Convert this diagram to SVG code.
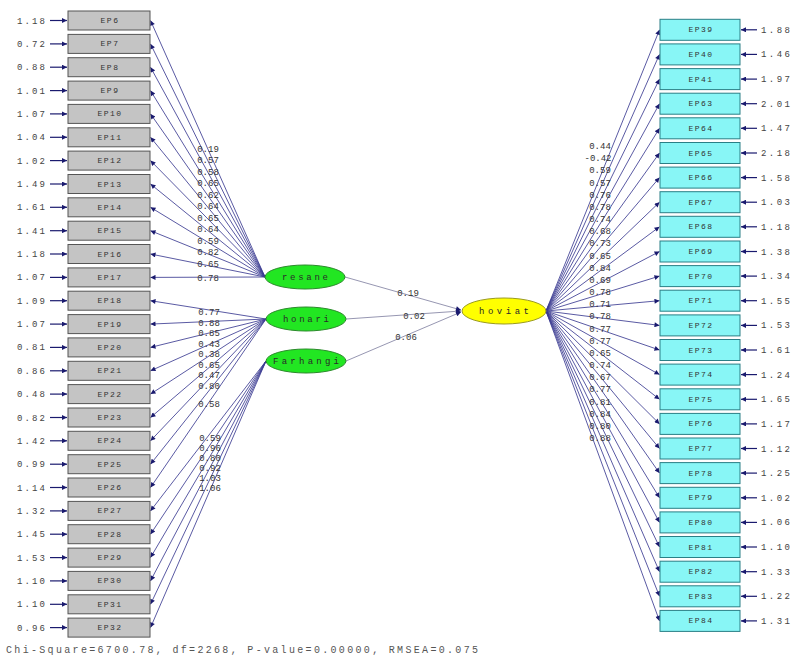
<svg xmlns="http://www.w3.org/2000/svg" width="797" height="657" viewBox="0 0 797 657">
<style>
.bg{fill:#ffffff}
.lb{fill:#c4c4c4;stroke:#555555;stroke-width:1}
.rb{fill:#88f6f6;stroke:#2a7f86;stroke-width:1}
.bt{font-family:"Liberation Mono",monospace;font-size:8px;letter-spacing:1.5px;fill:#333333;text-anchor:middle}
.ev{font-family:"Liberation Mono",monospace;font-size:9px;fill:#444444}
.ld{font-family:"Liberation Mono",monospace;font-size:9px;fill:#333333;text-anchor:middle}
.ln{stroke:#3c3c92;stroke-width:0.85;fill:none}
.st{stroke:#8a8aa8;stroke-width:0.9;fill:none}
.er{stroke:#1a1a6e;stroke-width:1.2;fill:none}
.lat{fill:#22e622;stroke:#2a8a2a;stroke-width:1}
.yel{fill:#ffff00;stroke:#9a9a20;stroke-width:1}
.lt{font-family:"Liberation Mono",monospace;font-size:9px;fill:#2a2a2a;text-anchor:middle}
.ft{font-family:"Liberation Mono",monospace;font-size:10px;fill:#555555}
</style>
<defs>
<marker id="ah" viewBox="0 0 10 10" refX="10" refY="5" markerWidth="7" markerHeight="5" markerUnits="userSpaceOnUse" orient="auto">
<path d="M0,0 L10,5 L0,10 z" fill="#1a1a6e"/>
</marker>
</defs>
<rect class="bg" x="0" y="0" width="797" height="657"/>

<g id="connectors">
<g id="left-errors">
<line class="er" x1="50" y1="20.5" x2="67" y2="20.5" marker-end="url(#ah)"/>
<line class="er" x1="50" y1="43.9" x2="67" y2="43.9" marker-end="url(#ah)"/>
<line class="er" x1="50" y1="67.2" x2="67" y2="67.2" marker-end="url(#ah)"/>
<line class="er" x1="50" y1="90.6" x2="67" y2="90.6" marker-end="url(#ah)"/>
<line class="er" x1="50" y1="113.9" x2="67" y2="113.9" marker-end="url(#ah)"/>
<line class="er" x1="50" y1="137.3" x2="67" y2="137.3" marker-end="url(#ah)"/>
<line class="er" x1="50" y1="160.6" x2="67" y2="160.6" marker-end="url(#ah)"/>
<line class="er" x1="50" y1="184" x2="67" y2="184" marker-end="url(#ah)"/>
<line class="er" x1="50" y1="207.3" x2="67" y2="207.3" marker-end="url(#ah)"/>
<line class="er" x1="50" y1="230.7" x2="67" y2="230.7" marker-end="url(#ah)"/>
<line class="er" x1="50" y1="254" x2="67" y2="254" marker-end="url(#ah)"/>
<line class="er" x1="50" y1="277.4" x2="67" y2="277.4" marker-end="url(#ah)"/>
<line class="er" x1="50" y1="300.7" x2="67" y2="300.7" marker-end="url(#ah)"/>
<line class="er" x1="50" y1="324.1" x2="67" y2="324.1" marker-end="url(#ah)"/>
<line class="er" x1="50" y1="347.4" x2="67" y2="347.4" marker-end="url(#ah)"/>
<line class="er" x1="50" y1="370.8" x2="67" y2="370.8" marker-end="url(#ah)"/>
<line class="er" x1="50" y1="394.1" x2="67" y2="394.1" marker-end="url(#ah)"/>
<line class="er" x1="50" y1="417.5" x2="67" y2="417.5" marker-end="url(#ah)"/>
<line class="er" x1="50" y1="440.8" x2="67" y2="440.8" marker-end="url(#ah)"/>
<line class="er" x1="50" y1="464.2" x2="67" y2="464.2" marker-end="url(#ah)"/>
<line class="er" x1="50" y1="487.5" x2="67" y2="487.5" marker-end="url(#ah)"/>
<line class="er" x1="50" y1="510.9" x2="67" y2="510.9" marker-end="url(#ah)"/>
<line class="er" x1="50" y1="534.2" x2="67" y2="534.2" marker-end="url(#ah)"/>
<line class="er" x1="50" y1="557.6" x2="67" y2="557.6" marker-end="url(#ah)"/>
<line class="er" x1="50" y1="580.9" x2="67" y2="580.9" marker-end="url(#ah)"/>
<line class="er" x1="50" y1="604.3" x2="67" y2="604.3" marker-end="url(#ah)"/>
<line class="er" x1="50" y1="627.6" x2="67" y2="627.6" marker-end="url(#ah)"/>
</g>
<g id="right-errors">
<line class="er" x1="757" y1="29.8" x2="741" y2="29.8" marker-end="url(#ah)"/>
<line class="er" x1="757" y1="54.4" x2="741" y2="54.4" marker-end="url(#ah)"/>
<line class="er" x1="757" y1="79.1" x2="741" y2="79.1" marker-end="url(#ah)"/>
<line class="er" x1="757" y1="103.7" x2="741" y2="103.7" marker-end="url(#ah)"/>
<line class="er" x1="757" y1="128.3" x2="741" y2="128.3" marker-end="url(#ah)"/>
<line class="er" x1="757" y1="153" x2="741" y2="153" marker-end="url(#ah)"/>
<line class="er" x1="757" y1="177.6" x2="741" y2="177.6" marker-end="url(#ah)"/>
<line class="er" x1="757" y1="202.2" x2="741" y2="202.2" marker-end="url(#ah)"/>
<line class="er" x1="757" y1="226.8" x2="741" y2="226.8" marker-end="url(#ah)"/>
<line class="er" x1="757" y1="251.5" x2="741" y2="251.5" marker-end="url(#ah)"/>
<line class="er" x1="757" y1="276.1" x2="741" y2="276.1" marker-end="url(#ah)"/>
<line class="er" x1="757" y1="300.7" x2="741" y2="300.7" marker-end="url(#ah)"/>
<line class="er" x1="757" y1="325.4" x2="741" y2="325.4" marker-end="url(#ah)"/>
<line class="er" x1="757" y1="350" x2="741" y2="350" marker-end="url(#ah)"/>
<line class="er" x1="757" y1="374.6" x2="741" y2="374.6" marker-end="url(#ah)"/>
<line class="er" x1="757" y1="399.3" x2="741" y2="399.3" marker-end="url(#ah)"/>
<line class="er" x1="757" y1="423.9" x2="741" y2="423.9" marker-end="url(#ah)"/>
<line class="er" x1="757" y1="448.5" x2="741" y2="448.5" marker-end="url(#ah)"/>
<line class="er" x1="757" y1="473.1" x2="741" y2="473.1" marker-end="url(#ah)"/>
<line class="er" x1="757" y1="497.8" x2="741" y2="497.8" marker-end="url(#ah)"/>
<line class="er" x1="757" y1="522.4" x2="741" y2="522.4" marker-end="url(#ah)"/>
<line class="er" x1="757" y1="547" x2="741" y2="547" marker-end="url(#ah)"/>
<line class="er" x1="757" y1="571.7" x2="741" y2="571.7" marker-end="url(#ah)"/>
<line class="er" x1="757" y1="596.3" x2="741" y2="596.3" marker-end="url(#ah)"/>
<line class="er" x1="757" y1="620.9" x2="741" y2="620.9" marker-end="url(#ah)"/>
</g>
<g id="load-resane">
<line class="ln" x1="265" y1="277" x2="150.5" y2="20.5" marker-end="url(#ah)"/>
<line class="ln" x1="265" y1="277" x2="150.5" y2="43.9" marker-end="url(#ah)"/>
<line class="ln" x1="265" y1="277" x2="150.5" y2="67.2" marker-end="url(#ah)"/>
<line class="ln" x1="265" y1="277" x2="150.5" y2="90.6" marker-end="url(#ah)"/>
<line class="ln" x1="265" y1="277" x2="150.5" y2="113.9" marker-end="url(#ah)"/>
<line class="ln" x1="265" y1="277" x2="150.5" y2="137.3" marker-end="url(#ah)"/>
<line class="ln" x1="265" y1="277" x2="150.5" y2="160.6" marker-end="url(#ah)"/>
<line class="ln" x1="265" y1="277" x2="150.5" y2="184" marker-end="url(#ah)"/>
<line class="ln" x1="265" y1="277" x2="150.5" y2="207.3" marker-end="url(#ah)"/>
<line class="ln" x1="265" y1="277" x2="150.5" y2="230.7" marker-end="url(#ah)"/>
<line class="ln" x1="265" y1="277" x2="150.5" y2="254" marker-end="url(#ah)"/>
<line class="ln" x1="265" y1="277" x2="150.5" y2="277.4" marker-end="url(#ah)"/>
</g>
<g id="load-honari">
<line class="ln" x1="266" y1="319" x2="150.5" y2="300.7" marker-end="url(#ah)"/>
<line class="ln" x1="266" y1="319" x2="150.5" y2="324.1" marker-end="url(#ah)"/>
<line class="ln" x1="266" y1="319" x2="150.5" y2="347.4" marker-end="url(#ah)"/>
<line class="ln" x1="266" y1="319" x2="150.5" y2="370.8" marker-end="url(#ah)"/>
<line class="ln" x1="266" y1="319" x2="150.5" y2="394.1" marker-end="url(#ah)"/>
<line class="ln" x1="266" y1="319" x2="150.5" y2="417.5" marker-end="url(#ah)"/>
<line class="ln" x1="266" y1="319" x2="150.5" y2="440.8" marker-end="url(#ah)"/>
<line class="ln" x1="266" y1="319" x2="150.5" y2="464.2" marker-end="url(#ah)"/>
<line class="ln" x1="266" y1="319" x2="150.5" y2="487.5" marker-end="url(#ah)"/>
</g>
<g id="load-farhangi">
<line class="ln" x1="266" y1="361" x2="150.5" y2="510.9" marker-end="url(#ah)"/>
<line class="ln" x1="266" y1="361" x2="150.5" y2="534.2" marker-end="url(#ah)"/>
<line class="ln" x1="266" y1="361" x2="150.5" y2="557.6" marker-end="url(#ah)"/>
<line class="ln" x1="266" y1="361" x2="150.5" y2="580.9" marker-end="url(#ah)"/>
<line class="ln" x1="266" y1="361" x2="150.5" y2="604.3" marker-end="url(#ah)"/>
<line class="ln" x1="266" y1="361" x2="150.5" y2="627.6" marker-end="url(#ah)"/>
</g>
<g id="load-hoviat">
<line class="ln" x1="546" y1="311" x2="659.5" y2="29.8" marker-end="url(#ah)"/>
<line class="ln" x1="546" y1="311" x2="659.5" y2="54.4" marker-end="url(#ah)"/>
<line class="ln" x1="546" y1="311" x2="659.5" y2="79.1" marker-end="url(#ah)"/>
<line class="ln" x1="546" y1="311" x2="659.5" y2="103.7" marker-end="url(#ah)"/>
<line class="ln" x1="546" y1="311" x2="659.5" y2="128.3" marker-end="url(#ah)"/>
<line class="ln" x1="546" y1="311" x2="659.5" y2="153" marker-end="url(#ah)"/>
<line class="ln" x1="546" y1="311" x2="659.5" y2="177.6" marker-end="url(#ah)"/>
<line class="ln" x1="546" y1="311" x2="659.5" y2="202.2" marker-end="url(#ah)"/>
<line class="ln" x1="546" y1="311" x2="659.5" y2="226.8" marker-end="url(#ah)"/>
<line class="ln" x1="546" y1="311" x2="659.5" y2="251.5" marker-end="url(#ah)"/>
<line class="ln" x1="546" y1="311" x2="659.5" y2="276.1" marker-end="url(#ah)"/>
<line class="ln" x1="546" y1="311" x2="659.5" y2="300.7" marker-end="url(#ah)"/>
<line class="ln" x1="546" y1="311" x2="659.5" y2="325.4" marker-end="url(#ah)"/>
<line class="ln" x1="546" y1="311" x2="659.5" y2="350" marker-end="url(#ah)"/>
<line class="ln" x1="546" y1="311" x2="659.5" y2="374.6" marker-end="url(#ah)"/>
<line class="ln" x1="546" y1="311" x2="659.5" y2="399.3" marker-end="url(#ah)"/>
<line class="ln" x1="546" y1="311" x2="659.5" y2="423.9" marker-end="url(#ah)"/>
<line class="ln" x1="546" y1="311" x2="659.5" y2="448.5" marker-end="url(#ah)"/>
<line class="ln" x1="546" y1="311" x2="659.5" y2="473.1" marker-end="url(#ah)"/>
<line class="ln" x1="546" y1="311" x2="659.5" y2="497.8" marker-end="url(#ah)"/>
<line class="ln" x1="546" y1="311" x2="659.5" y2="522.4" marker-end="url(#ah)"/>
<line class="ln" x1="546" y1="311" x2="659.5" y2="547" marker-end="url(#ah)"/>
<line class="ln" x1="546" y1="311" x2="659.5" y2="571.7" marker-end="url(#ah)"/>
<line class="ln" x1="546" y1="311" x2="659.5" y2="596.3" marker-end="url(#ah)"/>
<line class="ln" x1="546" y1="311" x2="659.5" y2="620.9" marker-end="url(#ah)"/>
</g>
<g id="structural">
<line class="st" x1="345" y1="277" x2="461" y2="310" marker-end="url(#ah)"/>
<line class="st" x1="346" y1="319" x2="461" y2="311" marker-end="url(#ah)"/>
<line class="st" x1="346" y1="361" x2="461" y2="312" marker-end="url(#ah)"/>
</g>
<g id="labels-left">
<text class="ld" x="208" y="151.5">0.19</text>
<text class="ld" x="208" y="163">0.57</text>
<text class="ld" x="208" y="174.5">0.58</text>
<text class="ld" x="208" y="186">0.65</text>
<text class="ld" x="208" y="197.5">0.62</text>
<text class="ld" x="208" y="209">0.64</text>
<text class="ld" x="208" y="220.5">0.65</text>
<text class="ld" x="208" y="232">0.64</text>
<text class="ld" x="208" y="243.5">0.59</text>
<text class="ld" x="208" y="255">0.82</text>
<text class="ld" x="208" y="267">0.65</text>
<text class="ld" x="208" y="280.5">0.78</text>
<text class="ld" x="209" y="315">0.77</text>
<text class="ld" x="209" y="325.5">0.88</text>
<text class="ld" x="209" y="336">0.85</text>
<text class="ld" x="209" y="346.5">0.43</text>
<text class="ld" x="209" y="357">0.38</text>
<text class="ld" x="209" y="367.5">0.65</text>
<text class="ld" x="209" y="378">0.47</text>
<text class="ld" x="209" y="388.5">0.80</text>
<text class="ld" x="209" y="407">0.58</text>
<text class="ld" x="210" y="441">0.59</text>
<text class="ld" x="210" y="451">0.96</text>
<text class="ld" x="210" y="461">0.80</text>
<text class="ld" x="210" y="471">0.92</text>
<text class="ld" x="210" y="481">1.03</text>
<text class="ld" x="210" y="491">1.06</text>
</g>
<g id="labels-right">
<text class="ld" x="600" y="149">0.44</text>
<text class="ld" x="598" y="161.2">-0.42</text>
<text class="ld" x="600" y="173.3">0.59</text>
<text class="ld" x="600" y="185.5">0.57</text>
<text class="ld" x="600" y="197.7">0.76</text>
<text class="ld" x="600" y="209.9">0.78</text>
<text class="ld" x="600" y="222">0.74</text>
<text class="ld" x="600" y="234.2">0.68</text>
<text class="ld" x="600" y="246.4">0.73</text>
<text class="ld" x="600" y="258.5">0.65</text>
<text class="ld" x="600" y="270.7">0.84</text>
<text class="ld" x="600" y="282.9">0.69</text>
<text class="ld" x="600" y="295">0.78</text>
<text class="ld" x="600" y="307.2">0.71</text>
<text class="ld" x="600" y="319.4">0.78</text>
<text class="ld" x="600" y="331.6">0.77</text>
<text class="ld" x="600" y="343.7">0.77</text>
<text class="ld" x="600" y="355.9">0.65</text>
<text class="ld" x="600" y="368.1">0.74</text>
<text class="ld" x="600" y="380.2">0.67</text>
<text class="ld" x="600" y="392.4">0.77</text>
<text class="ld" x="600" y="404.6">0.81</text>
<text class="ld" x="600" y="416.7">0.84</text>
<text class="ld" x="600" y="428.9">0.80</text>
<text class="ld" x="600" y="441">0.88</text>
</g>
<g id="labels-structural">
<text class="ld" x="408" y="296">0.19</text>
<text class="ld" x="414" y="319">0.02</text>
<text class="ld" x="406" y="340">0.06</text>
</g>
</g>

<g id="left-values">
<text class="ev" x="17" y="23.5" textLength="28">1.18</text>
<text class="ev" x="17" y="46.9" textLength="28">0.72</text>
<text class="ev" x="17" y="70.2" textLength="28">0.88</text>
<text class="ev" x="17" y="93.6" textLength="28">1.01</text>
<text class="ev" x="17" y="116.9" textLength="28">1.07</text>
<text class="ev" x="17" y="140.3" textLength="28">1.04</text>
<text class="ev" x="17" y="163.6" textLength="28">1.02</text>
<text class="ev" x="17" y="187" textLength="28">1.49</text>
<text class="ev" x="17" y="210.3" textLength="28">1.61</text>
<text class="ev" x="17" y="233.7" textLength="28">1.41</text>
<text class="ev" x="17" y="257" textLength="28">1.18</text>
<text class="ev" x="17" y="280.4" textLength="28">1.07</text>
<text class="ev" x="17" y="303.7" textLength="28">1.09</text>
<text class="ev" x="17" y="327.1" textLength="28">1.07</text>
<text class="ev" x="17" y="350.4" textLength="28">0.81</text>
<text class="ev" x="17" y="373.8" textLength="28">0.86</text>
<text class="ev" x="17" y="397.1" textLength="28">0.48</text>
<text class="ev" x="17" y="420.5" textLength="28">0.82</text>
<text class="ev" x="17" y="443.8" textLength="28">1.42</text>
<text class="ev" x="17" y="467.2" textLength="28">0.99</text>
<text class="ev" x="17" y="490.5" textLength="28">1.14</text>
<text class="ev" x="17" y="513.9" textLength="28">1.32</text>
<text class="ev" x="17" y="537.2" textLength="28">1.45</text>
<text class="ev" x="17" y="560.6" textLength="28">1.53</text>
<text class="ev" x="17" y="583.9" textLength="28">1.10</text>
<text class="ev" x="17" y="607.3" textLength="28">1.10</text>
<text class="ev" x="17" y="630.6" textLength="28">0.96</text>
</g>
<g id="right-values">
<text class="ev" x="761" y="32.8" textLength="29">1.88</text>
<text class="ev" x="761" y="57.4" textLength="29">1.46</text>
<text class="ev" x="761" y="82.1" textLength="29">1.97</text>
<text class="ev" x="761" y="106.7" textLength="29">2.01</text>
<text class="ev" x="761" y="131.3" textLength="29">1.47</text>
<text class="ev" x="761" y="156" textLength="29">2.18</text>
<text class="ev" x="761" y="180.6" textLength="29">1.58</text>
<text class="ev" x="761" y="205.2" textLength="29">1.03</text>
<text class="ev" x="761" y="229.8" textLength="29">1.18</text>
<text class="ev" x="761" y="254.5" textLength="29">1.38</text>
<text class="ev" x="761" y="279.1" textLength="29">1.34</text>
<text class="ev" x="761" y="303.7" textLength="29">1.55</text>
<text class="ev" x="761" y="328.4" textLength="29">1.53</text>
<text class="ev" x="761" y="353" textLength="29">1.61</text>
<text class="ev" x="761" y="377.6" textLength="29">1.24</text>
<text class="ev" x="761" y="402.3" textLength="29">1.65</text>
<text class="ev" x="761" y="426.9" textLength="29">1.17</text>
<text class="ev" x="761" y="451.5" textLength="29">1.12</text>
<text class="ev" x="761" y="476.1" textLength="29">1.25</text>
<text class="ev" x="761" y="500.8" textLength="29">1.02</text>
<text class="ev" x="761" y="525.4" textLength="29">1.06</text>
<text class="ev" x="761" y="550" textLength="29">1.10</text>
<text class="ev" x="761" y="574.7" textLength="29">1.33</text>
<text class="ev" x="761" y="599.3" textLength="29">1.22</text>
<text class="ev" x="761" y="623.9" textLength="29">1.31</text>
</g>

<g id="EP6"><rect class="lb" x="68" y="11" width="82" height="19"/><text class="bt" x="110" y="23">EP6</text></g>
<g id="EP7"><rect class="lb" x="68" y="34.4" width="82" height="19"/><text class="bt" x="110" y="46.4">EP7</text></g>
<g id="EP8"><rect class="lb" x="68" y="57.7" width="82" height="19"/><text class="bt" x="110" y="69.7">EP8</text></g>
<g id="EP9"><rect class="lb" x="68" y="81.1" width="82" height="19"/><text class="bt" x="110" y="93.1">EP9</text></g>
<g id="EP10"><rect class="lb" x="68" y="104.4" width="82" height="19"/><text class="bt" x="110" y="116.4">EP10</text></g>
<g id="EP11"><rect class="lb" x="68" y="127.8" width="82" height="19"/><text class="bt" x="110" y="139.8">EP11</text></g>
<g id="EP12"><rect class="lb" x="68" y="151.1" width="82" height="19"/><text class="bt" x="110" y="163.1">EP12</text></g>
<g id="EP13"><rect class="lb" x="68" y="174.5" width="82" height="19"/><text class="bt" x="110" y="186.5">EP13</text></g>
<g id="EP14"><rect class="lb" x="68" y="197.8" width="82" height="19"/><text class="bt" x="110" y="209.8">EP14</text></g>
<g id="EP15"><rect class="lb" x="68" y="221.2" width="82" height="19"/><text class="bt" x="110" y="233.2">EP15</text></g>
<g id="EP16"><rect class="lb" x="68" y="244.5" width="82" height="19"/><text class="bt" x="110" y="256.5">EP16</text></g>
<g id="EP17"><rect class="lb" x="68" y="267.9" width="82" height="19"/><text class="bt" x="110" y="279.9">EP17</text></g>
<g id="EP18"><rect class="lb" x="68" y="291.2" width="82" height="19"/><text class="bt" x="110" y="303.2">EP18</text></g>
<g id="EP19"><rect class="lb" x="68" y="314.6" width="82" height="19"/><text class="bt" x="110" y="326.6">EP19</text></g>
<g id="EP20"><rect class="lb" x="68" y="337.9" width="82" height="19"/><text class="bt" x="110" y="349.9">EP20</text></g>
<g id="EP21"><rect class="lb" x="68" y="361.3" width="82" height="19"/><text class="bt" x="110" y="373.3">EP21</text></g>
<g id="EP22"><rect class="lb" x="68" y="384.6" width="82" height="19"/><text class="bt" x="110" y="396.6">EP22</text></g>
<g id="EP23"><rect class="lb" x="68" y="408" width="82" height="19"/><text class="bt" x="110" y="420">EP23</text></g>
<g id="EP24"><rect class="lb" x="68" y="431.3" width="82" height="19"/><text class="bt" x="110" y="443.3">EP24</text></g>
<g id="EP25"><rect class="lb" x="68" y="454.7" width="82" height="19"/><text class="bt" x="110" y="466.7">EP25</text></g>
<g id="EP26"><rect class="lb" x="68" y="478" width="82" height="19"/><text class="bt" x="110" y="490">EP26</text></g>
<g id="EP27"><rect class="lb" x="68" y="501.4" width="82" height="19"/><text class="bt" x="110" y="513.4">EP27</text></g>
<g id="EP28"><rect class="lb" x="68" y="524.7" width="82" height="19"/><text class="bt" x="110" y="536.7">EP28</text></g>
<g id="EP29"><rect class="lb" x="68" y="548.1" width="82" height="19"/><text class="bt" x="110" y="560.1">EP29</text></g>
<g id="EP30"><rect class="lb" x="68" y="571.4" width="82" height="19"/><text class="bt" x="110" y="583.4">EP30</text></g>
<g id="EP31"><rect class="lb" x="68" y="594.8" width="82" height="19"/><text class="bt" x="110" y="606.8">EP31</text></g>
<g id="EP32"><rect class="lb" x="68" y="618.1" width="82" height="19"/><text class="bt" x="110" y="630.1">EP32</text></g>

<g id="EP39"><rect class="rb" x="660" y="19.3" width="80" height="21"/><text class="bt" x="701" y="32.3">EP39</text></g>
<g id="EP40"><rect class="rb" x="660" y="43.9" width="80" height="21"/><text class="bt" x="701" y="56.9">EP40</text></g>
<g id="EP41"><rect class="rb" x="660" y="68.6" width="80" height="21"/><text class="bt" x="701" y="81.6">EP41</text></g>
<g id="EP63"><rect class="rb" x="660" y="93.2" width="80" height="21"/><text class="bt" x="701" y="106.2">EP63</text></g>
<g id="EP64"><rect class="rb" x="660" y="117.8" width="80" height="21"/><text class="bt" x="701" y="130.8">EP64</text></g>
<g id="EP65"><rect class="rb" x="660" y="142.5" width="80" height="21"/><text class="bt" x="701" y="155.5">EP65</text></g>
<g id="EP66"><rect class="rb" x="660" y="167.1" width="80" height="21"/><text class="bt" x="701" y="180.1">EP66</text></g>
<g id="EP67"><rect class="rb" x="660" y="191.7" width="80" height="21"/><text class="bt" x="701" y="204.7">EP67</text></g>
<g id="EP68"><rect class="rb" x="660" y="216.3" width="80" height="21"/><text class="bt" x="701" y="229.3">EP68</text></g>
<g id="EP69"><rect class="rb" x="660" y="241" width="80" height="21"/><text class="bt" x="701" y="254">EP69</text></g>
<g id="EP70"><rect class="rb" x="660" y="265.6" width="80" height="21"/><text class="bt" x="701" y="278.6">EP70</text></g>
<g id="EP71"><rect class="rb" x="660" y="290.2" width="80" height="21"/><text class="bt" x="701" y="303.2">EP71</text></g>
<g id="EP72"><rect class="rb" x="660" y="314.9" width="80" height="21"/><text class="bt" x="701" y="327.9">EP72</text></g>
<g id="EP73"><rect class="rb" x="660" y="339.5" width="80" height="21"/><text class="bt" x="701" y="352.5">EP73</text></g>
<g id="EP74"><rect class="rb" x="660" y="364.1" width="80" height="21"/><text class="bt" x="701" y="377.1">EP74</text></g>
<g id="EP75"><rect class="rb" x="660" y="388.8" width="80" height="21"/><text class="bt" x="701" y="401.8">EP75</text></g>
<g id="EP76"><rect class="rb" x="660" y="413.4" width="80" height="21"/><text class="bt" x="701" y="426.4">EP76</text></g>
<g id="EP77"><rect class="rb" x="660" y="438" width="80" height="21"/><text class="bt" x="701" y="451">EP77</text></g>
<g id="EP78"><rect class="rb" x="660" y="462.6" width="80" height="21"/><text class="bt" x="701" y="475.6">EP78</text></g>
<g id="EP79"><rect class="rb" x="660" y="487.3" width="80" height="21"/><text class="bt" x="701" y="500.3">EP79</text></g>
<g id="EP80"><rect class="rb" x="660" y="511.9" width="80" height="21"/><text class="bt" x="701" y="524.9">EP80</text></g>
<g id="EP81"><rect class="rb" x="660" y="536.5" width="80" height="21"/><text class="bt" x="701" y="549.5">EP81</text></g>
<g id="EP82"><rect class="rb" x="660" y="561.2" width="80" height="21"/><text class="bt" x="701" y="574.2">EP82</text></g>
<g id="EP83"><rect class="rb" x="660" y="585.8" width="80" height="21"/><text class="bt" x="701" y="598.8">EP83</text></g>
<g id="EP84"><rect class="rb" x="660" y="610.4" width="80" height="21"/><text class="bt" x="701" y="623.4">EP84</text></g>

<g id="resane"><ellipse class="lat" cx="305" cy="277" rx="40" ry="12"/><text class="lt" x="305" y="280" textLength="46">resane</text></g>
<g id="honari"><ellipse class="lat" cx="306" cy="319" rx="40" ry="12"/><text class="lt" x="306" y="322" textLength="46">honari</text></g>
<g id="Farhangi"><ellipse class="lat" cx="306" cy="361" rx="40" ry="12"/><text class="lt" x="306" y="364" textLength="66">Farhangi</text></g>
<g id="hoviat"><ellipse class="yel" cx="504" cy="311" rx="42" ry="13"/><text class="lt" x="504" y="314" textLength="50">hoviat</text></g>

<text class="ft" x="6" y="653" textLength="472">Chi-Square=6700.78, df=2268, P-value=0.00000, RMSEA=0.075</text>
</svg>
